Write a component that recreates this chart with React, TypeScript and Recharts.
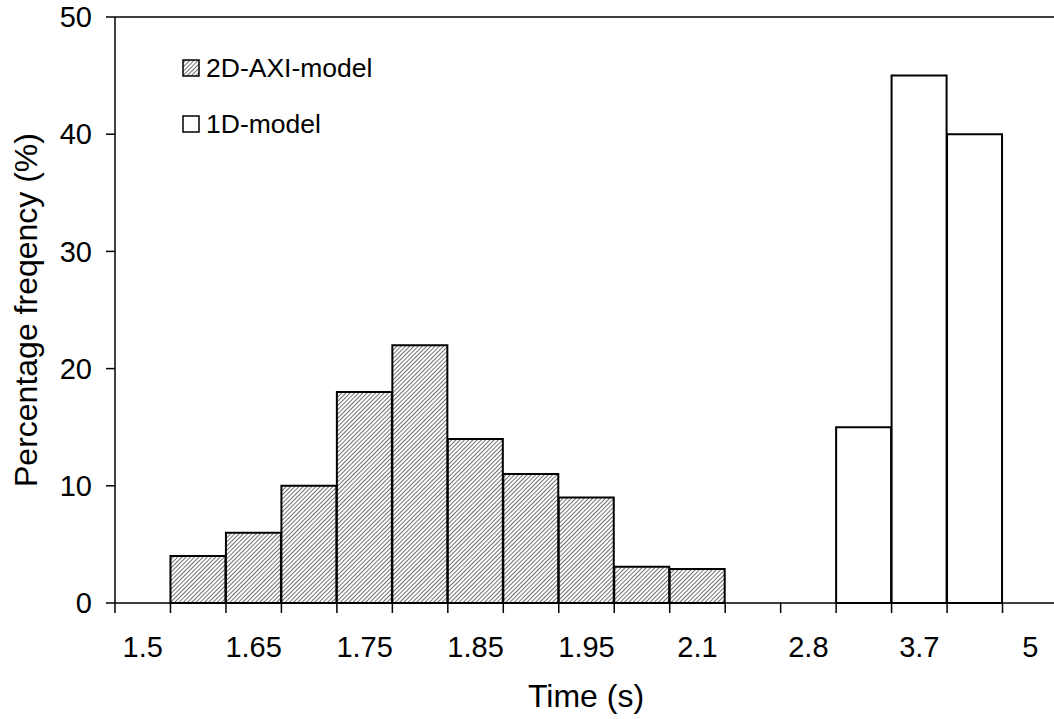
import React from 'react';
import { BarChart, Bar, XAxis, YAxis, Legend, ReferenceLine, Label } from 'recharts';

const categories = ['1.5', '1.6', '1.65', '1.7', '1.75', '1.8', '1.85', '1.9', '1.95', '2', '2.1', '2.5', '2.8', '3.2', '3.7', '4.5', '5'];
const axiModel = [null, 4, 6, 10, 18, 22, 14, 11, 9, 3.1, 2.9, null, null, null, null, null, null];
const oneDModel = [null, null, null, null, null, null, null, null, null, null, null, null, null, 15, 45, 40, null];
const yTicks = [0, 10, 20, 30, 40, 50];

const data = categories.map((c, i) => ({ cat: c, axi: axiModel[i], one: oneDModel[i] }));

const CHART_W = 1070;
const CHART_H = 719;
const MARGIN = { top: 17, right: 12, left: 0, bottom: 0 };
const Y_W = 115;
const X_H = 116;
const PLOT_W = CHART_W - MARGIN.left - MARGIN.right - Y_W;
const BAND = PLOT_W / categories.length;
const FONT = '"Liberation Sans", Arial, Helvetica, sans-serif';

const XTick = (props: any) => {
  const { x, y, payload, index } = props;
  const bx = x - BAND / 2;
  return (
    <g>
      <line x1={bx} x2={bx} y1={y} y2={y + 10} stroke="#000" strokeWidth={1.5} />
      {index % 2 === 0 && (
        <text x={x} y={y + 54} textAnchor="middle" fontSize={29} fontFamily={FONT} fill="#000">
          {payload.value}
        </text>
      )}
    </g>
  );
};

const HatchBox = () => (
  <svg width={18} height={18} style={{ display: 'block' }}>
    <defs>
      <pattern id="hatchLegend" patternUnits="userSpaceOnUse" width={3} height={3} patternTransform="rotate(45)">
        <rect width={3} height={3} fill="#fff" />
        <line x1={0} y1={0} x2={0} y2={3} stroke="#333" strokeWidth={1.4} />
      </pattern>
    </defs>
    <rect x={1} y={1} width={16} height={16} fill="url(#hatchLegend)" stroke="#000" strokeWidth={1.5} />
  </svg>
);

const PlainBox = () => (
  <svg width={18} height={18} style={{ display: 'block' }}>
    <rect x={1} y={1} width={16} height={16} fill="#fff" stroke="#000" strokeWidth={1.5} />
  </svg>
);

const LegendContent = () => (
  <div style={{ fontFamily: FONT, fontSize: 26.5, color: '#000' }}>
    <div style={{ display: 'flex', alignItems: 'center', height: 30 }}>
      <HatchBox />
      <span style={{ marginLeft: 6 }}>2D-AXI-model</span>
    </div>
    <div style={{ display: 'flex', alignItems: 'center', height: 30, marginTop: 26 }}>
      <PlainBox />
      <span style={{ marginLeft: 6 }}>1D-model</span>
    </div>
  </div>
);

export default function App() {
  return (
    <div style={{ position: 'absolute', left: 0, top: 0, width: 1054, height: 719, overflow: 'hidden', background: '#fff' }}>
      <BarChart width={CHART_W} height={CHART_H} data={data} margin={MARGIN} barCategoryGap={0} barGap={0}>
        <defs>
          <pattern id="hatch" patternUnits="userSpaceOnUse" width={3} height={3} patternTransform="rotate(45)">
            <rect width={3} height={3} fill="#fff" />
            <line x1={0} y1={0} x2={0} y2={3} stroke="#333" strokeWidth={1.4} />
          </pattern>
        </defs>
        <XAxis
          dataKey="cat"
          interval={0}
          height={X_H}
          tickLine={false}
          tickSize={0}
          tickMargin={0}
          tick={<XTick />}
          axisLine={{ stroke: '#000', strokeWidth: 1.5 }}
        >
          <Label
            content={() => (
              <text x={586} y={707} textAnchor="middle" fontSize={32} fontFamily={FONT} fill="#000">
                Time (s)
              </text>
            )}
          />
        </XAxis>
        <YAxis
          width={Y_W}
          domain={[0, 50]}
          ticks={yTicks}
          interval={0}
          tickSize={9}
          tickMargin={14}
          tick={{ fill: '#000', fontSize: 29, fontFamily: FONT }}
          tickLine={{ stroke: '#000', strokeWidth: 1.5 }}
          axisLine={{ stroke: '#000', strokeWidth: 1.5 }}
        >
          <Label
            content={() => (
              <text
                x={37}
                y={310}
                textAnchor="middle"
                fontSize={32}
                fontFamily={FONT}
                fill="#000"
                transform="rotate(-90 37 310)"
              >
                Percentage freqency (%)
              </text>
            )}
          />
        </YAxis>
        <ReferenceLine y={50} stroke="#000" strokeWidth={1.5} />
        <Bar dataKey="axi" name="2D-AXI-model" stackId="s" fill="url(#hatch)" stroke="#000" strokeWidth={2} isAnimationActive={false} />
        <Bar dataKey="one" name="1D-model" stackId="s" fill="#fff" stroke="#000" strokeWidth={2} isAnimationActive={false} />
        <Legend
          layout="vertical"
          align="center"
          verticalAlign="middle"
          content={<LegendContent />}
          wrapperStyle={{ position: 'absolute', left: 182, top: 53, width: 'auto' }}
        />
      </BarChart>
    </div>
  );
}
